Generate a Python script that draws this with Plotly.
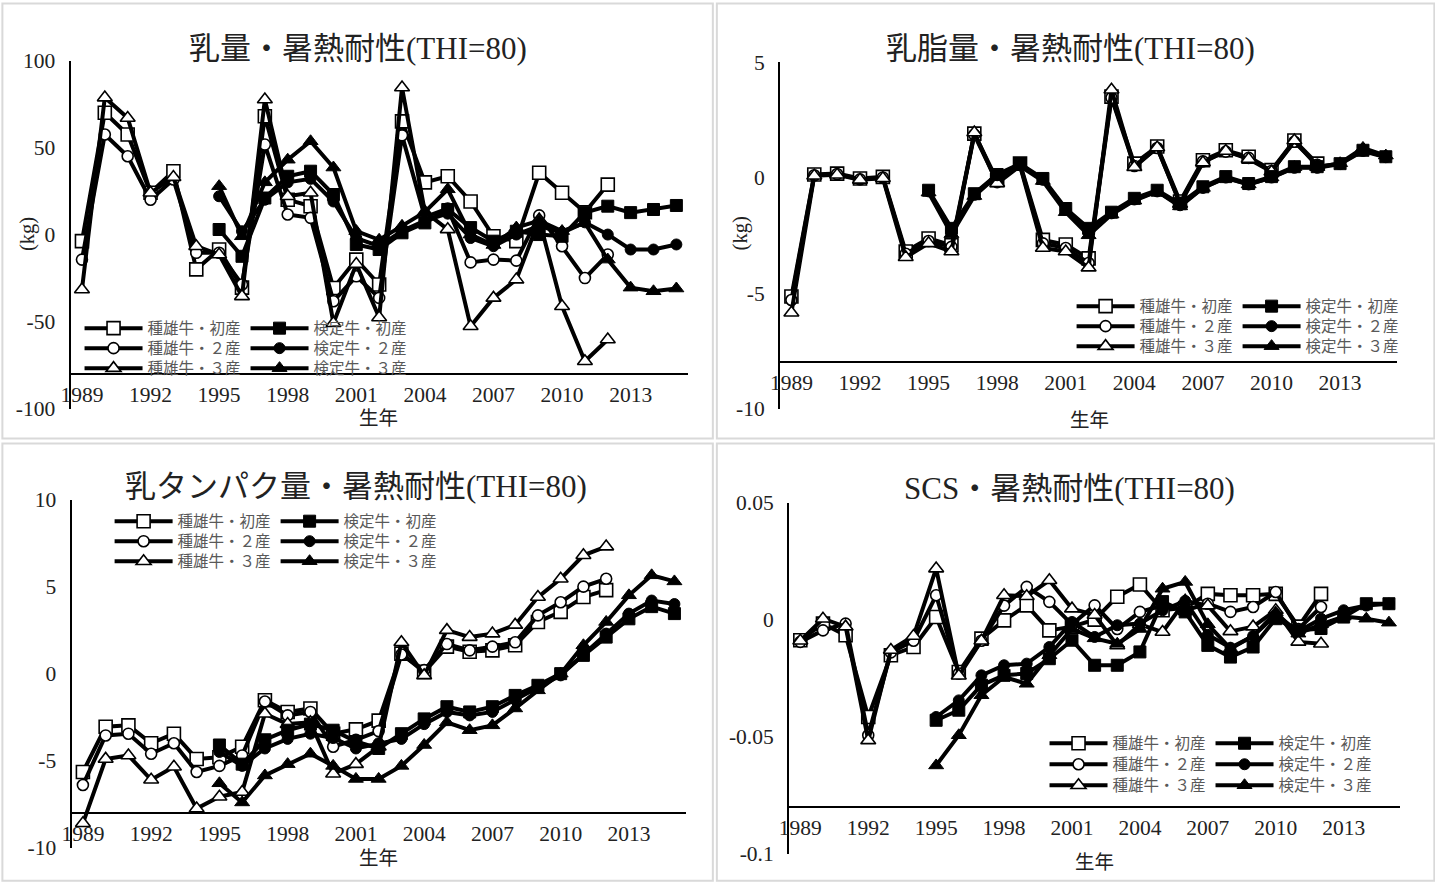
import plotly.graph_objects as go

# figure size and the mapping from layout pixels (x right, y down) into paper space
W, H = 1437, 896
SX, SY = 0.991, 0.973
DX, DY = 10.6, 12.5

# ---- categories -------------------------------------------------------------
SIRE_YEARS = list(range(1989, 2013))   # 種雄牛 series
COW_YEARS = list(range(1995, 2016))    # 検定牛 series
XTICK_YEARS = list(range(1989, 2014, 3))

SIRE_NAMES = ["種雄牛・初産", "種雄牛・２産", "種雄牛・３産"]
COW_NAMES = ["検定牛・初産", "検定牛・２産", "検定牛・３産"]

# ---- 乳量 -------------------------------------------------------------------
milk_sire1 = [-3.8, 70, 57.5, 24, 36.4, -20, -8.6, -30.5, 68, 20, 16.3, -30.7,
              -14.4, -28.7, 65, 30, 33.5, 19, -1, -3.8, 35.5, 24, 12.8, 28.7]
milk_sire2 = [-14.4, 57.5, 45, 20, 31.6, -10.5, -10.5, -28.7, 51.7, 11.5, 9.6, -38.3,
              -24, -36.4, 57, 10, 15, -16, -14.4, -15, 11, -6.7, -25, -11.5]
milk_sire3 = [-31.6, 78.7, 67, 24, 33, -6.7, -11.5, -35.5, 77.6, 22, 24, -51,
              -17, -47.7, 84.5, 13, 3, -52.7, -36.4, -25.9, 8.6, -41.2, -72.8, -60.3]
milk_cow1 = [2.9, -12.5, 21, 33.5, 36.4, 23, -5.7, -8.6, 1, 6.7, 14.4, 4,
             -3.8, 1.9, 0, -1, 12.6, 16.3, 12.6, 14.4, 16.7]
milk_cow2 = [22, 1.9, 20, 30, 32, 19, -2, -6.7, 2, 8, 12, -2,
             -6.7, 0, 5, 1, 7, 0, -8.6, -8.6, -5.7]
milk_cow3 = [27.8, -1, 30, 43, 53.6, 38.5, 2, -3, 5, 13, 26, 0,
             -6, 4, 8, 2, 6.7, -14.4, -30.5, -32.6, -31]

# ---- 乳脂量 -----------------------------------------------------------------
fat_sire1 = [-5.15, 0.13, 0.17, -0.04, 0.03, -3.2, -2.64, -2.93, 1.9, -0.12, 0.6, -2.7,
             -2.9, -3.5, 3.5, 0.6, 1.34, -1.04, 0.75, 1.18, 0.9, 0.32, 1.6, 0.6]
fat_sire2 = [-5.3, 0.1, 0.15, -0.08, 0.0, -3.3, -2.75, -3.0, 1.85, -0.2, 0.55, -2.85,
             -3.05, -3.7, 3.45, 0.5, 1.28, -1.1, 0.7, 1.12, 0.85, 0.28, 1.55, 0.55]
fat_sire3 = [-5.85, 0.08, 0.12, -0.1, -0.03, -3.45, -2.85, -3.2, 1.95, -0.25, 0.5, -3.05,
             -3.2, -3.9, 3.8, 0.45, 1.3, -1.15, 0.65, 1.15, 0.8, 0.25, 1.6, 0.5]
fat_cow1 = [-0.55, -2.2, -0.7, 0.13, 0.6, -0.04, -1.34, -2.2, -1.5, -0.9, -0.55, -1.13,
            -0.4, 0.04, -0.26, 0.04, 0.47, 0.47, 0.6, 1.18, 0.9]
fat_cow2 = [-0.6, -2.3, -0.75, 0.1, 0.55, -0.1, -1.4, -2.35, -1.55, -0.95, -0.6, -1.2,
            -0.45, 0.0, -0.3, 0.0, 0.42, 0.42, 0.58, 1.15, 0.88]
fat_cow3 = [-0.65, -2.45, -0.8, 0.08, 0.5, -0.15, -1.5, -2.5, -1.6, -1.0, -0.6, -1.25,
            -0.45, -0.02, -0.3, 0.0, 0.45, 0.45, 0.62, 1.28, 0.95]

# ---- 乳タンパク量 -----------------------------------------------------------
prot_sire1 = [-5.65, -3.05, -2.97, -4.0, -3.45, -4.9, -4.8, -4.2, -1.53, -2.2, -2.0, -3.45,
              -3.2, -2.7, 1.15, 0.1, 1.55, 1.26, 1.34, 1.63, 2.97, 3.55, 4.4, 4.8]
prot_sire2 = [-6.4, -3.55, -3.45, -4.6, -4.0, -5.65, -5.3, -4.7, -1.6, -2.4, -2.2, -4.2,
              -3.8, -3.3, 1.1, 0.2, 1.7, 1.34, 1.55, 1.8, 3.35, 4.1, 5.0, 5.45]
prot_sire3 = [-8.6, -4.9, -4.7, -6.1, -5.35, -7.75, -7.07, -6.8, -2.3, -2.9, -2.8, -5.75,
              -5.2, -4.2, 1.8, -0.1, 2.5, 2.1, 2.3, 2.8, 4.4, 5.45, 6.8, 7.3]
prot_cow1 = [-4.1, -5.2, -3.8, -3.25, -2.9, -3.25, -3.9, -4.3, -3.45, -2.6, -1.9, -2.2,
             -1.9, -1.25, -0.67, 0.0, 1.05, 2.1, 3.15, 3.85, 3.45]
prot_cow2 = [-4.5, -5.3, -4.3, -3.75, -3.45, -3.7, -4.3, -4.0, -3.75, -2.9, -2.2, -2.4,
             -2.2, -1.5, -0.8, -0.1, 1.1, 2.3, 3.45, 4.2, 4.0]
prot_cow3 = [-6.3, -7.4, -5.85, -5.2, -4.6, -5.3, -6.05, -6.05, -5.3, -4.1, -2.8, -3.25,
             -2.97, -2.0, -0.96, 0.0, 1.63, 2.97, 4.5, 5.65, 5.3]

# ---- SCS --------------------------------------------------------------------
scs_sire1 = [-0.0088, -0.0017, -0.0067, -0.0416, -0.0152, -0.0117, 0.0011, -0.0224,
             -0.0081, -0.0003, 0.0061, -0.0046, -0.003, 0.0, 0.0098, 0.015, 0.004, 0.005,
             0.011, 0.0104, 0.0104, 0.011, -0.003, 0.011]
scs_sire2 = [-0.0095, -0.0046, -0.0017, -0.0494, -0.014, -0.009, 0.0104, -0.023,
             -0.009, 0.006, 0.014, 0.0076, -0.002, 0.0061, -0.004, 0.0033, 0.006, 0.004,
             0.0068, 0.0033, 0.0054, 0.0118, -0.004, 0.0054]
scs_sire3 = [-0.009, 0.0004, -0.003, -0.0516, -0.013, -0.007, 0.0218, -0.024,
             -0.009, 0.0104, 0.010, 0.0168, 0.0047, 0.002, -0.011, -0.002, -0.0053, 0.008,
             0.006, -0.005, -0.003, 0.004, -0.0095, -0.0103]
scs_cow1 = [-0.043, -0.0387, -0.028, -0.0238, -0.023, -0.0167, -0.0088, -0.0195, -0.0195,
            -0.0138, 0.0077, 0.0033, -0.011, -0.016, -0.0117, 0.0004, -0.0046, -0.0038,
            0.0011, 0.0068, 0.0068]
scs_cow2 = [-0.0416, -0.0345, -0.0238, -0.0195, -0.0188, -0.0117, -0.001, -0.0074, -0.0024,
            -0.0017, 0.004, 0.008, -0.0065, -0.012, -0.007, 0.002, -0.005, 0.0004,
            0.004, 0.006, 0.0068]
scs_cow3 = [-0.0623, -0.0494, -0.0323, -0.0245, -0.0274, -0.0152, -0.004, -0.008, -0.0103,
            -0.004, 0.0132, 0.0161, -0.002, -0.0124, -0.007, 0.003, -0.006, -0.002,
            0.0013, 0.0004, -0.0013]

# ---- panel definitions (pixel boxes of each plot area) ------------------------
PANELS = [
    dict(title="乳量・暑熱耐性(THI=80)", title_xy=(358, 50),
         sire=[milk_sire1, milk_sire2, milk_sire3], cow=[milk_cow1, milk_cow2, milk_cow3],
         box=(71, 687, 62, 410), yrange=(-100, 100), cross=-80,
         yticks=[-100, -50, 0, 50, 100], yticktext=["-100", "-50", "0", "50", "100"],
         ytitle="(kg)", ytitle_xy=(28, 235), xtitle_xy=(378, 418),
         legend_x=85, legend_rows=(330, 350, 370)),
    dict(title="乳脂量・暑熱耐性(THI=80)", title_xy=(1069, 50),
         sire=[fat_sire1, fat_sire2, fat_sire3], cow=[fat_cow1, fat_cow2, fat_cow3],
         box=(779, 1395, 63.5, 410), yrange=(-10, 5), cross=-8,
         yticks=[-10, -5, 0, 5], yticktext=["-10", "-5", "0", "5"],
         ytitle="(kg)", ytitle_xy=(740, 235), xtitle_xy=(1088, 420),
         legend_x=1075, legend_rows=(308, 328, 348)),
    dict(title="乳タンパク量・暑熱耐性(THI=80)", title_xy=(356, 488),
         sire=[prot_sire1, prot_sire2, prot_sire3], cow=[prot_cow1, prot_cow2, prot_cow3],
         box=(72, 685, 501, 849), yrange=(-10, 10), cross=-8,
         yticks=[-10, -5, 0, 5, 10], yticktext=["-10", "-5", "0", "5", "10"],
         ytitle=None, ytitle_xy=None, xtitle_xy=(378, 858),
         legend_x=115, legend_rows=(523, 543, 563)),
    dict(title="SCS・暑熱耐性(THI=80)", title_xy=(1068, 490),
         sire=[scs_sire1, scs_sire2, scs_sire3], cow=[scs_cow1, scs_cow2, scs_cow3],
         box=(788, 1398, 504, 855), yrange=(-0.1, 0.05), cross=-0.08,
         yticks=[-0.1, -0.05, 0, 0.05], yticktext=["-0.1", "-0.05", "0", "0.05"],
         ytitle=None, ytitle_xy=None, xtitle_xy=(1093, 862),
         legend_x=1048, legend_rows=(745, 766, 787)),
]

SIRE_MARKERS = [dict(symbol="square", size=13), dict(symbol="circle", size=11),
                dict(symbol="triangle-up", size=13)]
COW_MARKERS = [dict(symbol="square", size=12), dict(symbol="circle", size=11),
               dict(symbol="triangle-up", size=13)]

SERIF = "Liberation Serif, 'Noto Sans CJK JP', serif"
CJK = "'Noto Sans CJK JP', sans-serif"
LINE_W = 4


def px(x):
    return (x - DX) / SX / W


def py(y):
    return 1 - (y - DY) / SY / H


fig = go.Figure()
layout = dict(
    width=W, height=H, margin=dict(l=0, r=0, t=0, b=0),
    paper_bgcolor="white", plot_bgcolor="white", showlegend=True,
)
annotations = []
shapes = []

for i, p in enumerate(PANELS):
    n = "" if i == 0 else str(i + 1)
    xa = "x" + n
    x0, x1, ytop, ybot = p["box"]
    ydom = [py(ybot), py(ytop)]
    lo, hi = p["yrange"]
    frac = (p["cross"] - lo) / (hi - lo)
    layout["xaxis" + n] = dict(
        domain=[px(x0), px(x1)], range=[1988.5, 2015.5], anchor="free",
        position=ydom[0] + (ydom[1] - ydom[0]) * frac,
        showline=True, linecolor="black", linewidth=2, showgrid=False, zeroline=False,
        tickmode="array", tickvals=XTICK_YEARS, ticktext=[str(v) for v in XTICK_YEARS],
        ticks="outside", ticklen=1, tickcolor="rgba(0,0,0,0)",
        tickfont=dict(family=SERIF, size=21.5, color="#222"),
    )
    layout["yaxis" + n] = dict(
        domain=ydom, range=[lo, hi], anchor=xa,
        showline=True, linecolor="black", linewidth=2, showgrid=False, zeroline=False,
        tickmode="array", tickvals=p["yticks"], ticktext=p["yticktext"],
        ticks="outside", ticklen=9, tickcolor="rgba(0,0,0,0)",
        tickfont=dict(family=SERIF, size=21.5, color="#222"),
    )

    # one horizontal legend per legend row (two entries each)
    for r in range(3):
        k = i * 3 + r
        lname = "legend" + ("" if k == 0 else str(k + 1))
        layout[lname] = dict(
            x=px(p["legend_x"] - 5), y=py(p["legend_rows"][r]),
            xanchor="left", yanchor="middle",
            orientation="h", bgcolor="rgba(0,0,0,0)", borderwidth=0,
            entrywidth=93, itemwidth=58,
            font=dict(family=CJK, size=15.5, color="#595959"),
        )

    # titles
    tx, ty = p["title_xy"]
    annotations.append(dict(text=p["title"], x=px(tx), y=py(ty), xref="paper", yref="paper",
                            showarrow=False, xanchor="center", yanchor="middle",
                            font=dict(family=SERIF, size=31, color="#222")))
    gx, gy = p["xtitle_xy"]
    annotations.append(dict(text="生年", x=px(gx), y=py(gy), xref="paper", yref="paper",
                            showarrow=False, xanchor="center", yanchor="middle",
                            font=dict(family=CJK, size=19.5, color="#222")))
    if p["ytitle"]:
        kx, ky = p["ytitle_xy"]
        annotations.append(dict(text=p["ytitle"], x=px(kx), y=py(ky), xref="paper",
                                yref="paper", showarrow=False, textangle=-90,
                                xanchor="center", yanchor="middle",
                                font=dict(family=SERIF, size=20.5, color="#222")))

# traces: 種雄牛 (open markers) first, then 検定牛 (filled markers)
for group in ("sire", "cow"):
    for i, p in enumerate(PANELS):
        n = "" if i == 0 else str(i + 1)
        for r in range(3):
            k = i * 3 + r
            lname = "legend" + ("" if k == 0 else str(k + 1))
            if group == "sire":
                m = SIRE_MARKERS[r]
                marker = dict(symbol=m["symbol"], size=m["size"], color="white",
                              line=dict(color="black", width=1.6))
                xs, ys, name = SIRE_YEARS, p["sire"][r], SIRE_NAMES[r]
            else:
                m = COW_MARKERS[r]
                marker = dict(symbol=m["symbol"], size=m["size"], color="black",
                              line=dict(color="black", width=1))
                xs, ys, name = COW_YEARS, p["cow"][r], COW_NAMES[r]
            fig.add_trace(go.Scatter(
                x=xs, y=ys, name=name, mode="lines+markers",
                line=dict(color="black", width=LINE_W), marker=marker,
                xaxis="x" + n, yaxis="y" + n, legend=lname, cliponaxis=False,
            ))

# panel frames
for (a, b, c, d) in [(3, 712, 5, 440), (716, 1432, 5, 440),
                     (3, 712, 445, 882), (716, 1432, 445, 882)]:
    shapes.append(dict(type="rect", xref="paper", yref="paper",
                       x0=px(a), x1=px(b), y0=py(d), y1=py(c),
                       line=dict(color="#d9d9d9", width=2), layer="below"))

layout["annotations"] = annotations
layout["shapes"] = shapes
fig.update_layout(**layout)
fig.write_html("out.html")
